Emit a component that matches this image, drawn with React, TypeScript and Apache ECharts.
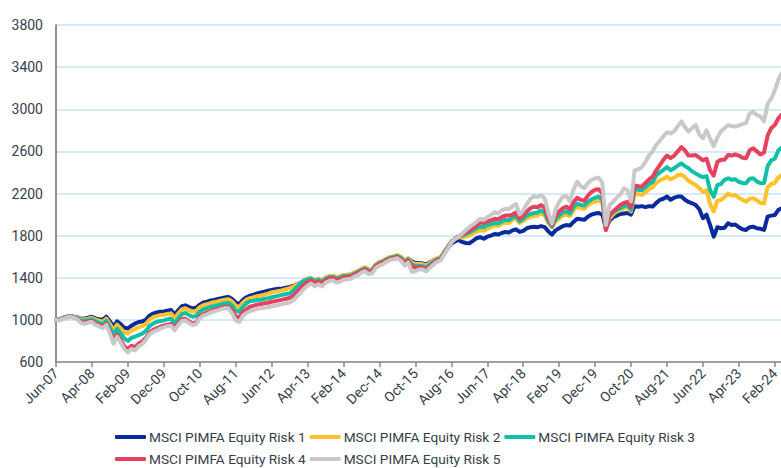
import React, { useEffect, useRef } from "react";
import * as echarts from "echarts";

const MONTHS = ["Jan", "Feb", "Mar", "Apr", "May", "Jun", "Jul", "Aug", "Sep", "Oct", "Nov", "Dec"];
const START_YEAR = 2007;
const START_MONTH = 5; // June
const MONTH_COUNT = 203; // Jun-07 .. Apr-24

const categories: string[] = Array.from({ length: MONTH_COUNT }, (_, i) => {
  const m = (START_MONTH + i) % 12;
  const y = START_YEAR + Math.floor((START_MONTH + i) / 12);
  return `${MONTHS[m]}-${String(y % 100).padStart(2, "0")}`;
});

const seriesNames = [
  "MSCI PIMFA Equity Risk 1",
  "MSCI PIMFA Equity Risk 2",
  "MSCI PIMFA Equity Risk 3",
  "MSCI PIMFA Equity Risk 4",
  "MSCI PIMFA Equity Risk 5",
];

const risk1 = [
  1000, 1005, 1020, 1030, 1037, 1030, 1025, 1010, 1012, 1020,
  1030, 1015, 1005, 1000, 1030, 985, 935, 985, 960, 925,
  918, 945, 965, 980, 985, 1000, 1040, 1060, 1070, 1078,
  1080, 1088, 1094, 1050, 1090, 1130, 1138, 1122, 1110, 1115,
  1145, 1165, 1172, 1185, 1190, 1198, 1205, 1213, 1218, 1198,
  1165, 1150, 1190, 1215, 1230, 1240, 1252, 1260, 1268, 1278,
  1285, 1290, 1295, 1298, 1305, 1312, 1322, 1338, 1352, 1372,
  1388, 1392, 1372, 1388, 1370, 1398, 1412, 1416, 1406, 1410,
  1424, 1426, 1430, 1446, 1460, 1480, 1494, 1474, 1478, 1524,
  1545, 1558, 1576, 1592, 1600, 1608, 1595, 1562, 1582, 1555,
  1540, 1540, 1535, 1525, 1545, 1565, 1582, 1592, 1635, 1680,
  1725, 1745, 1760, 1740, 1730, 1728, 1750, 1775, 1785, 1770,
  1790, 1800, 1815, 1810, 1825, 1835, 1830, 1850, 1860, 1835,
  1845, 1870, 1880, 1885, 1880, 1890, 1880, 1840, 1810, 1850,
  1870, 1890, 1900, 1895, 1930, 1960, 1955, 1950, 1980, 2000,
  2010, 2015, 2000, 1870, 1940, 1975, 1990, 2005, 2010, 2015,
  2000, 2080, 2075, 2080, 2070, 2080, 2076, 2110, 2139, 2150,
  2171, 2140, 2160, 2171, 2171, 2140, 2120, 2107, 2090, 2050,
  1965, 2000, 1900, 1790, 1880, 1870, 1875, 1918, 1900, 1905,
  1880, 1860, 1854, 1880, 1885, 1870, 1865, 1854, 1981, 1990,
  1996, 2044, 2060,
];

const risk2 = [
  1000, 1003, 1018, 1030, 1038, 1030, 1023, 1003, 1005, 1012,
  1020, 1002, 992, 982, 1012, 960, 900, 955, 920, 882,
  870, 900, 915, 930, 940, 960, 1000, 1025, 1035, 1045,
  1048, 1055, 1062, 1015, 1060, 1100, 1110, 1092, 1080, 1085,
  1120, 1140, 1148, 1160, 1168, 1176, 1185, 1192, 1196, 1175,
  1135, 1120, 1165, 1192, 1206, 1215, 1225, 1232, 1240, 1250,
  1262, 1268, 1275, 1282, 1292, 1302, 1315, 1335, 1352, 1372,
  1392, 1398, 1368, 1388, 1368, 1400, 1415, 1418, 1405, 1410,
  1426, 1428, 1432, 1450, 1465, 1485, 1500, 1475, 1480, 1530,
  1550, 1563, 1582, 1598, 1605, 1615, 1598, 1560, 1585, 1545,
  1530, 1532, 1528, 1515, 1540, 1565, 1585, 1595, 1645, 1695,
  1745, 1770, 1790, 1780, 1790, 1800, 1820, 1840, 1850, 1845,
  1865, 1880, 1900, 1890, 1910, 1925, 1920, 1950, 1960, 1920,
  1940, 1965, 1980, 1985, 1990, 2010, 1990, 1920, 1880, 1935,
  1960, 1990, 2000, 1985, 2040, 2075, 2060, 2055, 2090, 2110,
  2123, 2135, 2110, 1870, 1960, 2000, 2030, 2040, 2060, 2070,
  2030, 2190, 2195, 2185, 2210, 2240, 2260, 2300, 2325, 2340,
  2360, 2335, 2350, 2375, 2380, 2355, 2320, 2300, 2280, 2250,
  2215, 2230, 2100, 2030, 2130, 2140, 2165, 2200, 2180, 2185,
  2160, 2140, 2123, 2150, 2155, 2135, 2110, 2105, 2260, 2290,
  2300, 2355, 2375,
];

const risk3 = [
  1000, 1000, 1015, 1028, 1036, 1027, 1018, 992, 993, 1000,
  1005, 985, 972, 960, 990, 930, 855, 915, 870, 825,
  800, 830, 840, 855, 870, 895, 940, 965, 980, 990,
  995, 1005, 1010, 965, 1012, 1055, 1065, 1045, 1030, 1038,
  1078, 1100, 1110, 1125, 1132, 1140, 1150, 1158, 1162, 1135,
  1090, 1075, 1125, 1158, 1180, 1182, 1188, 1192, 1200, 1205,
  1215, 1222, 1230, 1238, 1245, 1252, 1275, 1312, 1345, 1370,
  1385, 1392, 1360, 1378, 1358, 1390, 1405, 1408, 1394, 1400,
  1416, 1418, 1422, 1440, 1455, 1475, 1490, 1465, 1470, 1520,
  1540, 1555, 1575, 1590, 1597, 1606, 1588, 1548, 1575, 1525,
  1512, 1515, 1510, 1498, 1525, 1552, 1575, 1585, 1640, 1690,
  1742, 1770, 1790, 1800, 1815, 1830, 1850, 1870, 1885, 1880,
  1900, 1910, 1920, 1915, 1935, 1950, 1945, 1970, 1985, 1935,
  1960, 1990, 2005, 2015, 2020, 2040, 2015, 1935, 1885, 1955,
  1990, 2020, 2030, 2010, 2070, 2105, 2090, 2085, 2120, 2145,
  2160, 2170, 2140, 1870, 1985, 2020, 2045, 2060, 2080, 2090,
  2045, 2240, 2235, 2230, 2260, 2290, 2310, 2370, 2400, 2425,
  2450, 2420, 2440, 2465, 2485, 2460, 2440, 2410, 2390, 2370,
  2355, 2365, 2230, 2170, 2280, 2290, 2330, 2345, 2330, 2335,
  2310, 2300, 2297, 2340, 2345, 2315, 2297, 2300, 2460, 2515,
  2530, 2610, 2640,
];

const risk4 = [
  1000, 998, 1012, 1025, 1032, 1022, 1010, 978, 975, 985,
  990, 965, 952, 935, 965, 890, 800, 860, 810, 750,
  718, 755, 740, 775, 795, 830, 880, 905, 920, 935,
  945, 955, 960, 918, 968, 1005, 1010, 985, 965, 975,
  1030, 1055, 1068, 1085, 1095, 1105, 1115, 1125, 1125, 1092,
  1035, 1020, 1075, 1100, 1125, 1135, 1145, 1150, 1158, 1162,
  1172, 1178, 1185, 1192, 1200, 1210, 1228, 1262, 1300, 1335,
  1358, 1375, 1345, 1365, 1345, 1378, 1395, 1398, 1382, 1388,
  1405, 1408, 1412, 1430, 1445, 1465, 1480, 1455, 1460, 1512,
  1532, 1546, 1566, 1582, 1590, 1598, 1578, 1536, 1565, 1505,
  1495, 1500, 1495, 1480, 1510, 1540, 1565, 1575, 1632, 1685,
  1740, 1770, 1790, 1810, 1830, 1845, 1870, 1895, 1925, 1920,
  1935, 1945, 1960, 1955, 1975, 1990, 1990, 2000, 2020, 1960,
  1990, 2030, 2060, 2075, 2070, 2090, 2065, 1960, 1900, 1985,
  2030, 2060, 2075, 2050, 2120, 2160, 2140, 2130, 2180, 2215,
  2235, 2240, 2200, 1850, 2000, 2030, 2060, 2090, 2110, 2120,
  2070, 2275, 2270, 2265, 2300, 2335, 2360, 2420, 2470, 2520,
  2560, 2535, 2560, 2600, 2640, 2610, 2560, 2560, 2565, 2540,
  2515, 2530, 2420, 2370, 2500, 2520, 2520, 2565, 2560, 2570,
  2560, 2540, 2535, 2610, 2630, 2600, 2570, 2590, 2750, 2820,
  2850, 2915, 2950,
];

const risk5 = [
  1000, 995, 1010, 1022, 1030, 1018, 1005, 968, 962, 975,
  980, 952, 938, 920, 952, 872, 775, 840, 785, 722,
  690, 725, 710, 750, 770, 810, 862, 885, 900, 918,
  928, 940, 945, 900, 950, 990, 995, 970, 950, 960,
  1015, 1040, 1052, 1070, 1080, 1090, 1102, 1112, 1110, 1060,
  995, 980, 1040, 1065, 1082, 1095, 1105, 1110, 1118, 1120,
  1130, 1136, 1142, 1150, 1158, 1165, 1185, 1220, 1255, 1295,
  1325, 1345, 1318, 1338, 1318, 1352, 1370, 1375, 1355, 1362,
  1382, 1385, 1390, 1410, 1425, 1448, 1462, 1435, 1442, 1495,
  1515, 1530, 1552, 1568, 1576, 1585, 1560, 1515, 1545, 1455,
  1462, 1478, 1478, 1460, 1492, 1525, 1550, 1562, 1620, 1675,
  1735, 1768, 1785, 1820, 1850, 1880, 1905, 1930, 1960, 1950,
  1975, 1995, 2025, 2010, 2040, 2055, 2050, 2080, 2100, 2000,
  2040, 2100, 2150, 2175, 2165, 2185, 2150, 2010, 1915, 2050,
  2120, 2170, 2175, 2125, 2240, 2310, 2270, 2250, 2300, 2330,
  2345, 2350, 2300, 1900, 2090, 2120, 2160, 2190, 2250, 2230,
  2125, 2420, 2430, 2450, 2500, 2560, 2600, 2660, 2700, 2745,
  2780, 2770, 2790, 2840, 2885, 2830, 2790, 2820, 2850, 2760,
  2725, 2800, 2720, 2650, 2730, 2790, 2820, 2850, 2840, 2835,
  2845, 2860, 2868, 2960, 2975, 2945, 2930, 2885, 3050, 3100,
  3180, 3280, 3345,
];

const seriesValues = [risk1, risk2, risk3, risk4, risk5];
const seriesColors = ["#0b2a9c", "#ffc22b", "#12c0a7", "#e6425f", "#c9c9c9"];

const Y_MIN = 600;
const Y_MAX = 3800;
const Y_STEP = 400;

export default function App() {
  const ref = useRef<HTMLDivElement>(null);

  useEffect(() => {
    if (!ref.current) return;
    const chart = echarts.init(ref.current, undefined, { renderer: "svg" });
    const font = "Roboto, 'Noto Sans', sans-serif";
    const textColor = "#37404a";
    const legendBase = {
      left: 110,
      icon: "roundRect",
      itemWidth: 31,
      itemHeight: 4,
      itemGap: 4,
      textStyle: { fontFamily: font, fontSize: 13.7, color: textColor, padding: [0, 0, 0, -2] },
    };

    chart.setOption({
      animation: false,
      backgroundColor: "#ffffff",
      grid: { left: 56, right: 8, top: 25, bottom: 106, containLabel: false },
      legend: [
        { ...legendBase, data: seriesNames.slice(0, 3), top: 425 },
        { ...legendBase, data: seriesNames.slice(3), top: 447 },
      ],
      xAxis: {
        type: "category",
        data: categories,
        boundaryGap: false,
        axisLine: { lineStyle: { color: "#8a8a8a", width: 1.5 } },
        axisTick: { show: true, interval: 9, length: 5, lineStyle: { color: "#8a8a8a", width: 1.5 } },
        axisLabel: {
          interval: 9,
          rotate: 45,
          margin: 9,
          fontFamily: font,
          fontSize: 14,
          color: textColor,
        },
        splitLine: { show: false },
      },
      yAxis: {
        type: "value",
        min: Y_MIN,
        max: Y_MAX,
        interval: Y_STEP,
        axisLine: { show: true, lineStyle: { color: "#6b6b6b", width: 1.5 } },
        axisTick: { show: false },
        axisLabel: {
          margin: 13,
          fontFamily: font,
          fontSize: 14,
          color: textColor,
          formatter: (v: number) => String(v),
        },
        splitLine: { show: true, lineStyle: { color: "#c4e4f7", width: 1.5 } },
      },
      series: seriesNames.map((name, k) => ({
        name,
        type: "line",
        data: seriesValues[k],
        showSymbol: false,
        symbol: "none",
        smooth: false,
        color: seriesColors[k],
        lineStyle: { width: 4, color: seriesColors[k], cap: "round", join: "round" },
        emphasis: { disabled: true },
      })),
    });

    return () => chart.dispose();
  }, []);

  return (
    <div
      style={{
        position: "fixed",
        left: 0,
        top: 0,
        width: 781,
        height: 468,
        overflow: "hidden",
        background: "#ffffff",
      }}
    >
      <div ref={ref} style={{ width: 790, height: 468 }} />
    </div>
  );
}
